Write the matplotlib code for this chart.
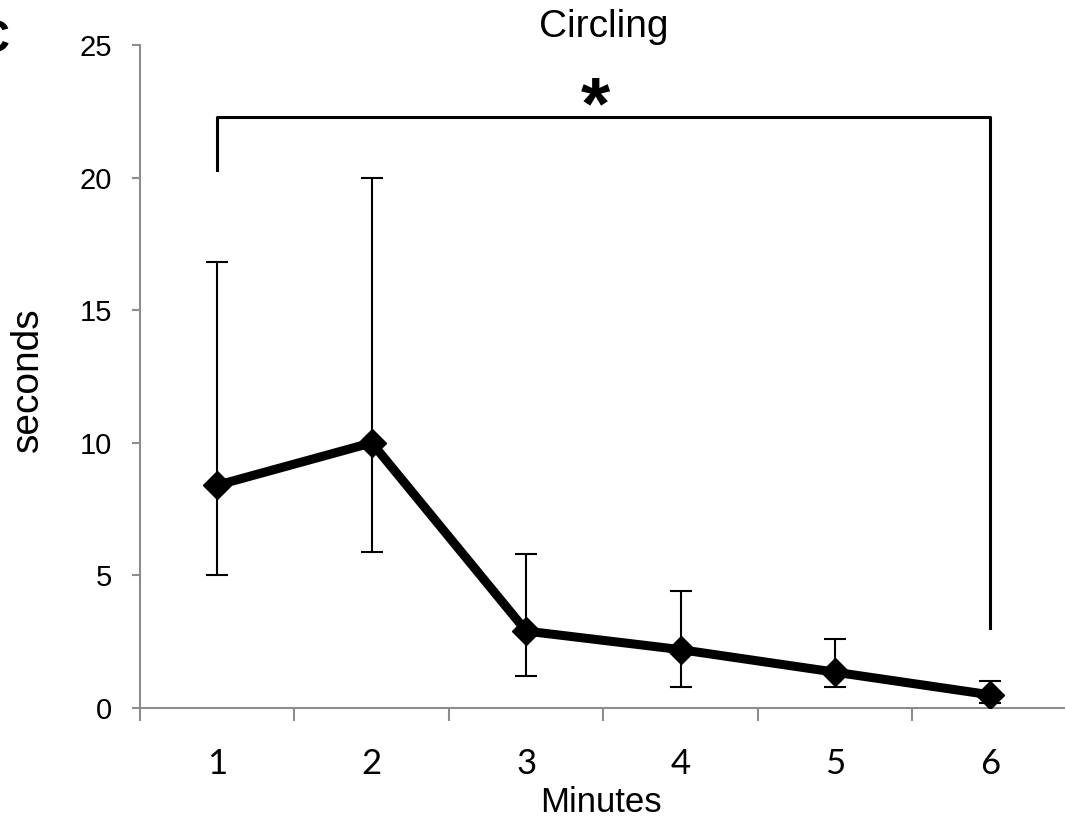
import numpy as np
import matplotlib.pyplot as plt

minutes = [1, 2, 3, 4, 5, 6]
seconds = [8.4, 10.0, 2.9, 2.2, 1.35, 0.5]
err_low = [5.0, 5.9, 1.2, 0.8, 0.8, 0.2]
err_high = [16.8, 20.0, 5.8, 4.4, 2.6, 1.0]

# significance bracket (minute 1 vs minute 6)
br_x = [1, 6]
br_top = 22.3
br_left_end = 20.3
br_right_end = 3.0

fig = plt.figure(figsize=(10.65, 8.26), dpi=100)
ax = fig.add_axes([140 / 1065, 1 - 708 / 826, 927 / 1065, 663 / 826])

x = np.array(minutes)
y = np.array(seconds)
yerr = [y - np.array(err_low), np.array(err_high) - y]

ax.errorbar(x, y, yerr=yerr, fmt='none', ecolor='black', elinewidth=1.5,
            capsize=8, capthick=1.5, zorder=2)
ax.plot(x, y, color='black', lw=6.5, marker='D', markersize=14,
        solid_capstyle='round', zorder=3)

# bracket
ax.plot([br_x[0], br_x[0], br_x[1], br_x[1]],
        [br_left_end, br_top, br_top, br_right_end],
        color='black', lw=2.2, zorder=3, clip_on=False)
ax.text(3.45, 22.6, '*', ha='center', va='center', fontsize=54,
        family='Liberation Sans', fontweight='bold')

ax.set_xlim(0.5, 6.5)
ax.set_ylim(0, 25)

gray = '#8c8c8c'
for s in ['top', 'right']:
    ax.spines[s].set_visible(False)
for s in ['left', 'bottom']:
    ax.spines[s].set_color(gray)
    ax.spines[s].set_linewidth(1.5)

ax.set_yticks([0, 5, 10, 15, 20, 25])
ax.tick_params(axis='y', direction='out', length=6, width=1.5, color=gray,
               labelsize=21, pad=14)
for lab in ax.get_yticklabels():
    lab.set_family('Liberation Sans')

ax.set_xticks(np.arange(0.5, 7.0, 1.0))
ax.set_xticklabels([])
ax.tick_params(axis='x', which='major', direction='out', length=9, width=1.5,
               color=gray)
ax.set_xticks(x, minor=True)
ax.set_xticklabels([str(m) for m in minutes], minor=True)
ax.tick_params(axis='x', which='minor', length=0, labelsize=25, pad=29)
for lab in ax.get_xticklabels(minor=True):
    lab.set_family('Lato')

ax.set_xlabel('Minutes', fontsize=25, family='Liberation Sans', va='center')
ax.xaxis.set_label_coords(0.497, -0.142)
ax.set_ylabel('seconds', fontsize=28, family='Liberation Sans', va='center')
ax.yaxis.set_label_coords(-0.121, 0.495)
ax.set_title('Circling', fontsize=28, family='Liberation Sans', pad=2)

fig.text(9 / 1065, 1 - 40 / 826, 'C', ha='right', va='center', fontsize=34,
         fontweight='bold', family='Liberation Sans')

fig.savefig('out.png', dpi=100)
